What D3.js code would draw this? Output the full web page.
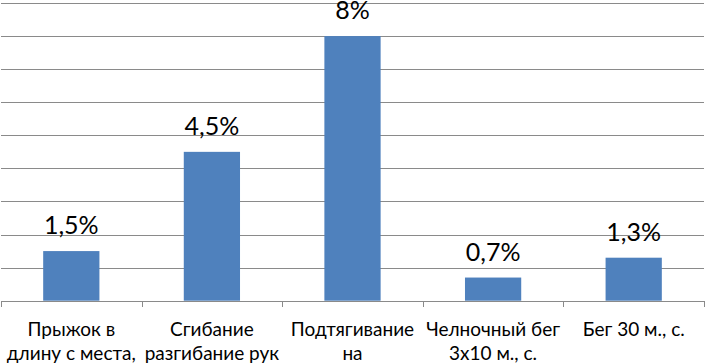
<!DOCTYPE html>
<html><head><meta charset="utf-8">
<script src="https://cdn.jsdelivr.net/npm/d3@7"></script>
<style>body{margin:0;background:#fff}svg{display:block}</style>
</head><body>
<script>
const categories = [
  ["Прыжок в", "длину с места,"],
  ["Сгибание", "разгибание рук"],
  ["Подтягивание", "на"],
  ["Челночный бег", "3х10 м., с."],
  ["Бег 30 м., с."]
];
const values = [1.5, 4.5, 8, 0.7, 1.3];
const valueLabels = ["1,5%", "4,5%", "8%", "0,7%", "1,3%"];
const yTicks = [0,1,2,3,4,5,6,7,8,9];

const W = 706, H = 364;
const svg = d3.select("body").append("svg").attr("width", W).attr("height", H);
const x0 = 1, x1 = 704, yBase = 300.7, yTop = 3;
const x = d3.scaleBand().domain(d3.range(categories.length)).range([x0, x1]);
const y = d3.scaleLinear().domain([0, 9]).range([yBase, yTop]);
const font = "Lato, 'Open Sans', sans-serif";

// gridlines
svg.append("g").selectAll("line").data(yTicks.slice(1)).join("line")
  .attr("x1", x0).attr("x2", x1)
  .attr("y1", d => Math.round(y(d)) + 0.5).attr("y2", d => Math.round(y(d)) + 0.5)
  .attr("stroke", "#8a8a8a").attr("stroke-width", 1);

// bars
const bw = x.bandwidth() * 0.4;
svg.append("g").selectAll("rect").data(values).join("rect")
  .attr("x", (d, i) => x(i) + (x.bandwidth() - bw) / 2)
  .attr("width", bw)
  .attr("y", d => y(d))
  .attr("height", d => y(0) - y(d))
  .attr("fill", "#4F81BD");

// baseline axis
const ax = svg.append("g");
ax.append("line").attr("x1", x0).attr("x2", x1).attr("y1", Math.round(yBase)+0.5).attr("y2", Math.round(yBase)+0.5)
  .attr("stroke", "#8a8a8a");
const tickPos = d3.range(categories.length + 1).map(i => i < categories.length ? x(i) : x1);
ax.selectAll("line.t").data(tickPos).join("line").attr("class","t")
  .attr("x1", d => Math.round(d) + 0.5).attr("x2", d => Math.round(d) + 0.5)
  .attr("y1", Math.round(yBase)).attr("y2", Math.round(yBase) + 6)
  .attr("stroke", "#8a8a8a");

// value labels
svg.append("g").selectAll("text").data(values).join("text")
  .attr("x", (d, i) => x(i) + x.bandwidth() / 2)
  .attr("y", d => y(d) - 17)
  .attr("text-anchor", "middle")
  .attr("font-family", font).attr("font-size", 25).attr("fill", "#000")
  .text((d, i) => valueLabels[i]);

// category labels
const cl = svg.append("g").selectAll("g").data(categories).join("g");
cl.selectAll("text").data(d => d).join("text")
  .attr("x", function() { const i = categories.indexOf(d3.select(this.parentNode).datum()); return x(i) + x.bandwidth() / 2; })
  .attr("y", (d, j) => 336 + j * 24)
  .attr("text-anchor", "middle")
  .attr("font-family", font).attr("font-size", 19).attr("fill", "#000")
  .text(d => d);
</script>
</body></html>
